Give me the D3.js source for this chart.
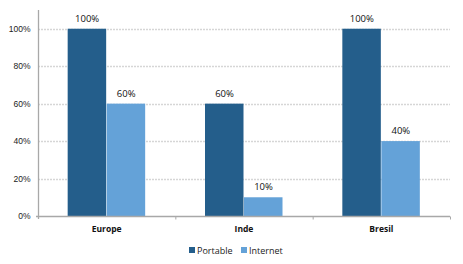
<!DOCTYPE html>
<html><head><meta charset="utf-8">
<script src="https://cdn.jsdelivr.net/npm/d3@7"></script>
<style>body{margin:0;background:#fff}svg{display:block;font-family:"Open Sans","Liberation Sans",sans-serif}</style>
</head><body><svg id="c" width="463" height="264"></svg>
<script>
const categories = ["Europe", "Inde", "Bresil"];
const seriesNames = ["Portable", "Internet"];
const portable = [100, 60, 100];
const internet = [60, 10, 40];
const yTicks = [0, 20, 40, 60, 80, 100];
const colors = ["#245E8B", "#64A2D8"];

(function () {
const svg = d3.select("#c");
const mLeft = 38, mRight = 450, mTop = 10, mBottom = 216;
const x = d3.scaleBand().domain(categories).range([mLeft, mRight]).paddingInner(0).paddingOuter(0);
const y = d3.scaleLinear().domain([0, 110]).range([mBottom, mTop]);
const inner = d3.scaleBand().domain(seriesNames).range([0, 78]);
const values = [portable, internet];

// gridlines
svg.append("g").selectAll("line").data(yTicks.filter(d => d > 0)).join("line")
  .attr("x1", mLeft).attr("x2", mRight)
  .attr("y1", d => Math.round(y(d)) + 0.5).attr("y2", d => Math.round(y(d)) + 0.5)
  .attr("stroke", "#d6d6d6").attr("stroke-width", 1.3).attr("stroke-dasharray", "2,1");

// bars
seriesNames.forEach((s, si) => {
  svg.append("g").selectAll("rect").data(categories).join("rect")
    .attr("x", d => x(d) + (x.bandwidth() - 78) / 2 + inner(s))
    .attr("y", (d, i) => y(values[si][i]))
    .attr("width", inner.bandwidth() - 0.5)
    .attr("height", (d, i) => mBottom - y(values[si][i]))
    .attr("fill", colors[si]);
  svg.append("g").selectAll("text").data(categories).join("text")
    .attr("x", d => x(d) + (x.bandwidth() - 78) / 2 + inner(s) + inner.bandwidth() / 2)
    .attr("y", (d, i) => y(values[si][i]) - 7)
    .attr("text-anchor", "middle").attr("font-size", 9.5).attr("fill", "#111")
    .text((d, i) => values[si][i] + "%");
});

// y axis
const yAxis = d3.axisLeft(y).tickValues(yTicks).tickFormat(d => d + "%").tickSize(0).tickPadding(8);
const gy = svg.append("g").attr("transform", `translate(${mLeft + 0.5},0)`).call(yAxis);
gy.select(".domain").attr("d", `M0,${mBottom + 3}V${mTop}`).attr("stroke", "#a8a8a8").attr("stroke-width", 1.3);
gy.selectAll(".tick text").attr("font-size", 8.5).attr("fill", "#222").attr("font-family", "inherit");

// x axis
const gx = svg.append("g").attr("transform", `translate(0,${mBottom + 0.5})`);
gx.append("line").attr("x1", mLeft - 2).attr("x2", mRight).attr("stroke", "#a8a8a8").attr("stroke-width", 1.3);
gx.selectAll("line.t").data(categories.map(c => x(c)).slice(1).concat([mRight])).join("line").attr("class", "t")
  .attr("x1", d => d + 0.5).attr("x2", d => d + 0.5).attr("y1", 0).attr("y2", 3).attr("stroke", "#a8a8a8");
svg.append("g").selectAll("text").data(categories).join("text")
  .attr("x", d => x(d) + x.bandwidth() / 2).attr("y", 232)
  .attr("text-anchor", "middle").attr("font-size", 8.5).attr("font-weight", "bold").attr("fill", "#111")
  .text(d => d);

// legend
const lg = svg.append("g");
const legX = [189, 241];
seriesNames.forEach((s, i) => {
  lg.append("rect").attr("x", legX[i]).attr("y", 247).attr("width", 6).attr("height", 6).attr("fill", colors[i]);
  lg.append("text").attr("x", legX[i] + 8).attr("y", 254).attr("font-size", 9).attr("fill", "#222").text(s);
});
})();
</script></body></html>
